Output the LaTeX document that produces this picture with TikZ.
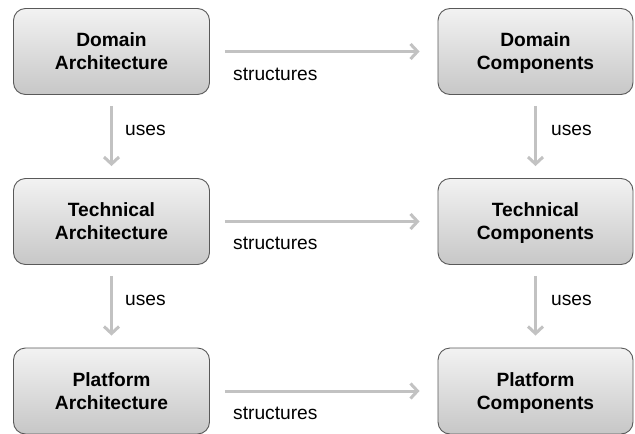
\documentclass[tikz,border=0pt]{standalone}
\usepackage{fontspec}
\setmainfont{Liberation Sans}
\usetikzlibrary{arrows.meta}
% two centred lines; the struts fix the height of the first line and the depth of the last
\newcommand\boxstrut{\rule[-4pt]{0pt}{21pt}}
\newcommand\twolines[2]{\boxstrut#1\\#2\boxstrut}
\begin{document}
\begin{tikzpicture}[x=1pt,y=-1pt,
  box/.style={draw=black!65, line width=0.9pt, rounded corners=12pt,
    top color=black!5, bottom color=black!22,
    minimum width=196pt, minimum height=86pt, align=center,
    font=\fontsize{19.2}{23}\selectfont\bfseries, inner sep=0pt},
  arr/.style={draw=black!24, line width=3pt,
    -{Straight Barb[length=7pt,width=15pt,line width=3pt]}},
  lbl/.style={font=\fontsize{19.2}{22}\selectfont, inner sep=0pt, anchor=base west}]
\useasboundingbox (0,0) rectangle (635,434);

% architecture column
\node[box] (da) at (111.5,51.5) {\twolines{Domain}{Architecture}};
\node[box] (ta) at (111.5,221.5) {\twolines{Technical}{Architecture}};
\node[box] (pa) at (111.5,391) {\twolines{Platform}{Architecture}};

% component column
\node[box, minimum width=195pt] (dc) at (535.5,51.5) {\twolines{Domain}{Components}};
\node[box, minimum width=195pt] (tc) at (535.5,221.5) {\twolines{Technical}{Components}};
\node[box, minimum width=195pt] (pc) at (535.5,391) {\twolines{Platform}{Components}};

% "structures" relations
\draw[arr, shorten <=15pt, shorten >=18pt] (da) -- (dc);
\draw[arr, shorten <=15pt, shorten >=18pt] (ta) -- (tc);
\draw[arr, shorten <=15pt, shorten >=18pt] (pa) -- (pc);
\node[lbl] (s1) at (233,80) {structures};
\node[lbl] (s2) at (233,249) {structures};
\node[lbl] (s3) at (233,419) {structures};

% "uses" relations
\draw[arr, shorten <=11pt, shorten >=12pt] (da) -- (ta);
\draw[arr, shorten <=11pt, shorten >=12pt] (ta) -- (pa);
\draw[arr, shorten <=11pt, shorten >=12pt] (dc) -- (tc);
\draw[arr, shorten <=11pt, shorten >=12pt] (tc) -- (pc);
\node[lbl] (u1) at (125,135) {uses};
\node[lbl] (u2) at (125,305) {uses};
\node[lbl] (u3) at (551,135) {uses};
\node[lbl] (u4) at (551,305) {uses};
\end{tikzpicture}
\end{document}
